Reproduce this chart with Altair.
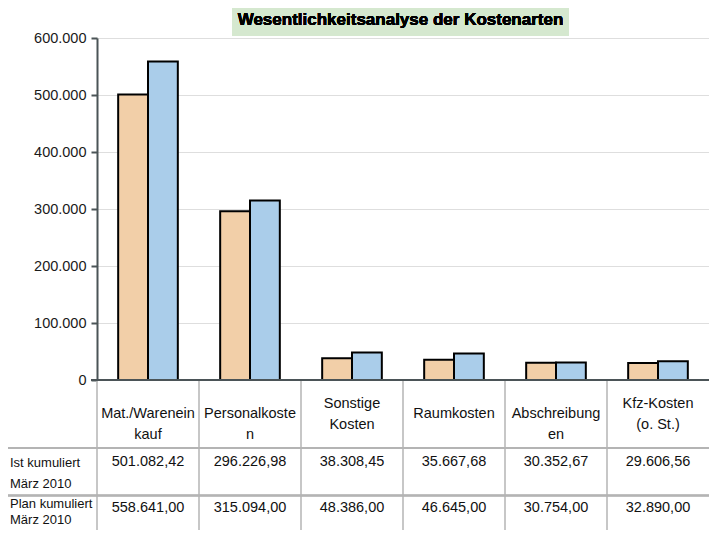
import altair as alt
import pandas as pd

# ---------------- data ----------------
title_text = "Wesentlichkeitsanalyse der Kostenarten"
categories = ["Mat./Wareneinkauf", "Personalkosten", "Sonstige Kosten",
              "Raumkosten", "Abschreibungen", "Kfz-Kosten (o. St.)"]
header_labels = ["Mat./Warenein\nkauf", "Personalkoste\nn", "Sonstige\nKosten",
                 "Raumkosten", "Abschreibung\nen", "Kfz-Kosten\n(o. St.)"]
series_names = ["Ist kumuliert März 2010", "Plan kumuliert März 2010"]
row_labels = ["Ist kumuliert\nMärz 2010", "Plan kumuliert\nMärz 2010"]
ist_values = [501082.42, 296226.98, 38308.45, 35667.68, 30352.67, 29606.56]
plan_values = [558641.00, 315094.00, 48386.00, 46645.00, 30754.00, 32890.00]
y_ticks = [0, 100000, 200000, 300000, 400000, 500000, 600000]

# ---------------- styling ----------------
FONT = "Liberation Sans"
ORANGE = "#f2cfa8"
BLUE = "#aacdea"
AXIS_DARK = "#4b5457"
TABLE_GRAY = "#b4b4b4"
W, H = 612, 342


def de_fmt(v):
    s = f"{v:,.2f}"
    return s.replace(",", "X").replace(".", ",").replace("X", ".")


rows = []
for s, vals in zip(series_names, [ist_values, plan_values]):
    for c, v in zip(categories, vals):
        rows.append({"cat": c, "series": s, "value": v, "label": de_fmt(v)})
df = pd.DataFrame(rows)

hdr = pd.DataFrame({
    "cat": categories,
    "label": header_labels,
    "grp": ["word" if ("\n" in l and l.replace("\n", " ") == c) else "mid"
            for c, l in zip(categories, header_labels)],
})
cats_df = pd.DataFrame({"cat": categories})

xenc = alt.X("cat:N", sort=categories, axis=None,
             scale=alt.Scale(paddingInner=0, paddingOuter=0))
yscale = alt.Scale(domain=[0, 600000], nice=False, zero=True)

bars = alt.Chart(df).mark_bar(stroke="black", strokeWidth=2).encode(
    x=xenc,
    xOffset=alt.XOffset("series:N", sort=series_names,
                        scale=alt.Scale(paddingInner=0, paddingOuter=0.71)),
    y=alt.Y("value:Q", scale=yscale, title=None,
            axis=alt.Axis(values=y_ticks, labelExpr="replace(format(datum.value, ','), ',', '.')",
                          labelFont=FONT, labelFontSize=14.5, labelColor="#1a1a1a",
                          labelPadding=5, tickSize=6, tickWidth=2, tickColor=AXIS_DARK,
                          domainColor=AXIS_DARK, domainWidth=2,
                          grid=True, gridColor="#dedede", gridWidth=1)),
    color=alt.Color("series:N", sort=series_names, legend=None,
                    scale=alt.Scale(domain=series_names, range=[ORANGE, BLUE])),
)

vlines = alt.Chart(cats_df).mark_rule(color=TABLE_GRAY, strokeWidth=1.5).encode(
    x=alt.X("cat:N", sort=categories, bandPosition=0, axis=None),
    y=alt.value(H), y2=alt.value(H + 160),
)

hline1 = alt.Chart(cats_df).mark_rule(color=TABLE_GRAY, strokeWidth=1.5).encode(
    x=alt.value(-100), x2=alt.value(W), y=alt.value(410))
hline2 = alt.Chart(cats_df).mark_rule(color=TABLE_GRAY, strokeWidth=1.5).encode(
    x=alt.value(-100), x2=alt.value(W), y=alt.value(457.5))

xaxis_line = alt.Chart(cats_df).mark_rule(color=AXIS_DARK, strokeWidth=2).encode(
    x=alt.value(-6), x2=alt.value(W), y=alt.value(H))

title_box = alt.Chart(cats_df).mark_rect(color="#d5e8cf").encode(
    x=alt.value(135), x2=alt.value(472), y=alt.value(-34), y2=alt.value(-2))
title = alt.Chart(cats_df).mark_text(font=FONT, fontSize=17, fontWeight="bold",
                                     color="black", baseline="middle").encode(
    x=alt.value(303.5), y=alt.value(-18.5), text=alt.value(title_text))

text_common = dict(font=FONT, fontSize=14.5, color="#111111", lineBreak="\n",
                   lineHeight=21, baseline="middle", align="center")

hdr_word = alt.Chart(hdr).transform_filter("datum.grp == 'word'").mark_text(**text_common).encode(
    x=alt.X("cat:N", sort=categories, bandPosition=0.5, axis=None),
    y=alt.value(366), text="label:N")
hdr_mid = alt.Chart(hdr).transform_filter("datum.grp == 'mid'").mark_text(**text_common).encode(
    x=alt.X("cat:N", sort=categories, bandPosition=0.5, axis=None),
    y=alt.value(375.5), text="label:N")

val_layers = []
for s, yy in zip(series_names, [424, 470]):
    val_layers.append(
        alt.Chart(df).transform_filter(alt.datum.series == s).mark_text(**text_common).encode(
            x=alt.X("cat:N", sort=categories, bandPosition=0.5, axis=None),
            y=alt.value(yy), text="label:N"))

row_layers = []
rl_df = pd.DataFrame({"label": row_labels, "idx": [0, 1]})
for i, (yy, lh) in enumerate([(425, 21), (466, 16)]):
    row_layers.append(
        alt.Chart(rl_df).transform_filter(alt.datum.idx == i).mark_text(
            font=FONT, fontSize=13, color="#111111", lineBreak="\n", lineHeight=lh,
            baseline="middle", align="left").encode(
            x=alt.value(-87), y=alt.value(yy), text="label:N"))

chart = alt.layer(
    bars, vlines, hline1, hline2, xaxis_line, title_box, title,
    hdr_word, hdr_mid, *val_layers, *row_layers
).properties(
    width=W, height=H,
    autosize=alt.AutoSizeParams(type="none"),
    padding={"left": 89, "top": 30, "right": 0, "bottom": 150},
).configure_view(stroke=None).configure(background="white")

chart.save("out.html", embed_options={"renderer": "svg", "actions": False})
